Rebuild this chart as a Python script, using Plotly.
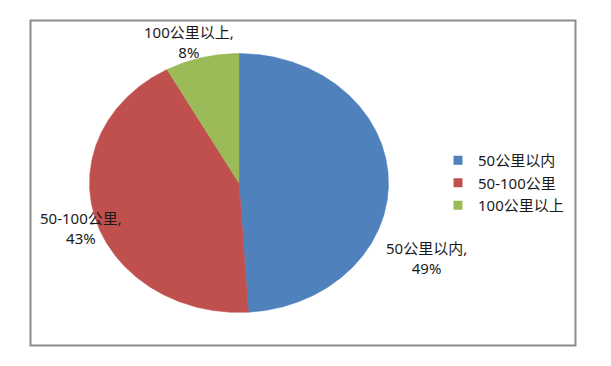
import numpy as np
import plotly.graph_objects as go

# ---- data ----
categories = ["50公里以内", "50-100公里", "100公里以上"]
values = [49, 43, 8]
colors = ["#4F81BD", "#C0504D", "#9BBB59"]

OFF = 8  # page body margin
W, H = 611 - OFF, 366 - OFF
# pixel geometry of the (elliptical) pie in the reference (page coords)
cx, cy = 239.0 - OFF, 183.0 - OFF
rx, ry = 149.5, 129.5

fig = go.Figure()

total = float(sum(values))
start = 0.0
for cat, val, col in zip(categories, values, colors):
    span = 360.0 * val / total
    th = np.radians(np.linspace(start, start + span, max(int(span * 2), 2)))
    xs = np.concatenate([[0.0], np.sin(th), [0.0]])
    ys = np.concatenate([[0.0], np.cos(th), [0.0]])
    fig.add_trace(go.Scatter(
        x=xs, y=ys, mode="lines", fill="toself", fillcolor=col,
        line=dict(width=0.5, color=col), showlegend=False,
        name=cat, hoverinfo="skip"))
    start += span

# legend entries
for cat, col in zip(categories, colors):
    fig.add_trace(go.Scatter(
        x=[None], y=[None], mode="markers", name=cat,
        marker=dict(symbol="square", size=9, color=col)))

# label annotations (page pixel positions)
label_pos = {
    "50公里以内": (426, 258),
    "50-100公里": (81, 228),
    "100公里以上": (189, 42),
}
font_fam = "Noto Sans, Noto Sans CJK SC, sans-serif"
for cat, val in zip(categories, values):
    px, py = label_pos[cat]
    fig.add_annotation(
        x=(px - OFF) / W, y=1 - (py - OFF) / H, xref="paper", yref="paper",
        text=f"{cat},<br>{val}%", showarrow=False,
        font=dict(size=15, color="#1a1a1a", family=font_fam),
        align="center", xanchor="center", yanchor="middle")

# frame
fig.add_shape(type="rect", xref="paper", yref="paper",
              x0=(30.5 - OFF) / W, x1=(575.5 - OFF) / W,
              y0=1 - (345.5 - OFF) / H, y1=1 - (20.5 - OFF) / H,
              line=dict(color="#8c8c8c", width=2))

fig.update_xaxes(range=[-cx / rx, (W - cx) / rx], visible=False, fixedrange=True)
fig.update_yaxes(range=[-(H - cy) / ry, cy / ry], visible=False, fixedrange=True)

fig.update_layout(
    width=W, height=H,
    margin=dict(l=0, r=0, t=0, b=0),
    paper_bgcolor="white", plot_bgcolor="white",
    font=dict(family=font_fam, size=15, color="#1a1a1a"),
    legend=dict(x=(438 - OFF) / W, y=1 - (144 - OFF) / H,
                xanchor="left", yanchor="top",
                bgcolor="rgba(0,0,0,0)", font=dict(size=15),
                itemsizing="trace", tracegroupgap=0),
)

fig.write_html("out.html")
